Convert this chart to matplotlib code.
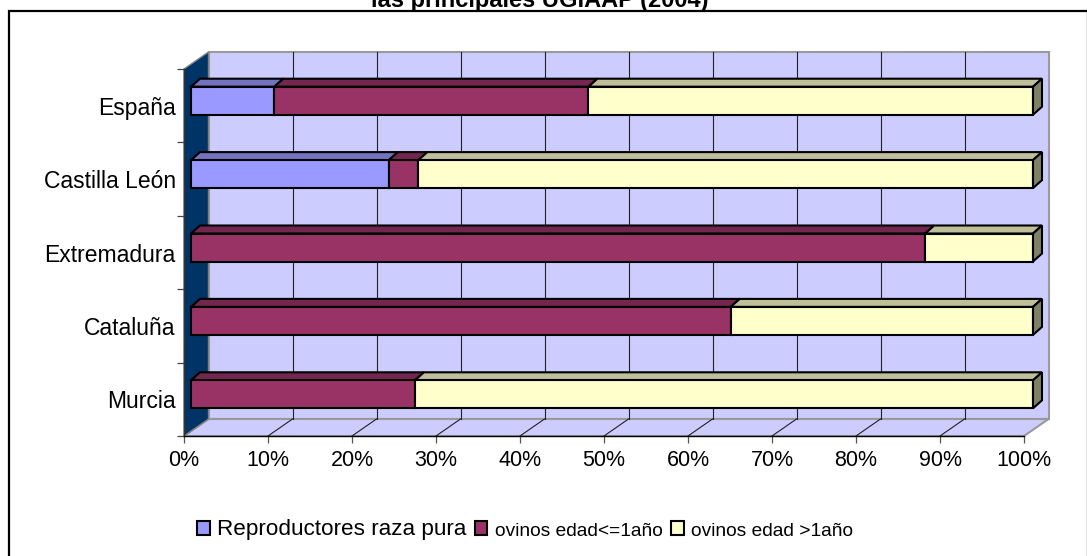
import matplotlib
matplotlib.use('Agg')
import matplotlib.pyplot as plt
from matplotlib.patches import Polygon, Rectangle

regiones = ['España', 'Castilla León', 'Extremadura', 'Cataluña', 'Murcia']
raza_pura = [9.9, 23.5, 0, 0, 0]
edad_menor = [37.3, 3.5, 87.2, 64.1, 26.6]
edad_mayor = [52.8, 73.0, 12.8, 35.9, 73.4]
series = ['Reproductores raza pura', 'ovinos edad<=1año', 'ovinos edad >1año']
ticks = list(range(0, 101, 10))
tick_labels = [str(t) + '%' for t in ticks]

W, H = 1087, 556
plt.rcParams['font.family'] = ['Liberation Sans', 'DejaVu Sans']
fig = plt.figure(figsize=(W / 100, H / 100), dpi=100)

# marco exterior
fig.add_artist(Rectangle((9 / W, -0.01), (W - 8) / W, (H - 11) / H + 0.01, transform=fig.transFigure,
                         fc='white', ec='black', lw=1.6, zorder=-1))

ax = fig.add_axes([184 / W, (H - 436) / H, 840 / W, 367 / H])
ax.set_xlim(0, 100)
ax.set_ylim(5, 0)
ax.patch.set_visible(False)

px = 100 / 840
py = 5 / 367
# profundidad del suelo y de las barras, en unidades de datos
dx, dy = 24.5 * px, -17 * py
bx, by = 7 * px, -5 * py
tx, ty = 9 * px, -8 * py
alto = 28 * py
esc = 842 / 840


def poly(pts, fc, ec='black', lw=1.5, z=3):
    ax.add_patch(Polygon(pts, closed=True, fc=fc, ec=ec, lw=lw, zorder=z, clip_on=False, joinstyle='miter'))


# pared del fondo, suelo y pared izquierda
poly([(dx, dy), (100 + dx, dy), (100 + dx, 5 + dy), (dx, 5 + dy)], '#CCCCFF', '#999999', 1.5, 1)
poly([(0, 5), (100, 5), (100 + dx, 5 + dy), (dx, 5 + dy)], '#CCCCFF', '#999999', 1.5, 1)
poly([(0, 0), (dx, dy), (dx, 5 + dy), (0, 5)], '#003366', '#808080', 1.0, 1)

for t in ticks[1:-1]:
    ax.plot([t + dx, t + dx], [dy, 5 + dy], color='#222222', lw=0.8, zorder=2, clip_on=False)
    ax.plot([t, t + dx], [5, 5 + dy], color='#222222', lw=0.8, zorder=2, clip_on=False)

colores = ['#9999FF', '#993366', '#FFFFCC']
tapas = ['#7373BF', '#732650', '#BFBF99']
lado = '#808066'

for i, r in enumerate(regiones):
    y0 = i + 0.5 + by - alto / 2
    y1 = y0 + alto
    izq = 0
    for vals, c, tapa in zip([raza_pura, edad_menor, edad_mayor], colores, tapas):
        v = vals[i]
        if v == 0:
            continue
        a, b = izq * esc + bx, (izq + v) * esc + bx
        poly([(a, y0), (a + tx, y0 + ty), (b + tx, y0 + ty), (b, y0)], tapa, z=4 + i)
        poly([(a, y0), (b, y0), (b, y1), (a, y1)], c, z=4 + i)
        izq += v
    b = izq * esc + bx
    poly([(b, y0), (b + tx, y0 + ty), (b + tx, y1 + ty), (b, y1)], lado, z=4 + i)

for s in ['top', 'right']:
    ax.spines[s].set_visible(False)
ax.spines['left'].set_linewidth(1.0)
ax.spines['bottom'].set_linewidth(1.0)
ax.spines['left'].set_color('#333333')

ax.set_xticks(ticks)
ax.set_xticklabels(tick_labels, fontsize=15.5)
ax.set_yticks(range(6))
ax.set_yticklabels([])
ax.set_yticks([i + 0.5 for i in range(5)], minor=True)
ax.set_yticklabels(regiones, minor=True, fontsize=16.5, ha='right')
ax.tick_params(axis='y', which='minor', length=0, pad=6)
ax.tick_params(axis='y', which='major', length=5, width=0.9, direction='out', color='#444444')
ax.tick_params(axis='x', length=5, width=0.9, pad=5, color='#555555')

handles = [Rectangle((0, 0), 1, 1, fc=c, ec='black', lw=1.5) for c in colores]
ley = fig.legend(handles, series, loc='center', bbox_to_anchor=(525 / W, (H - 530) / H), ncol=3, frameon=False,
                 fontsize=15, handlelength=0.62, handleheight=0.62, handletextpad=0.35, columnspacing=0.4)
# el primer texto es mas ancho que los otros dos en el original
for txt, tam in zip(ley.get_texts(), [16.2, 13.8, 13.8]):
    txt.set_fontsize(tam)

fig.text(540 / W, (H - 7) / H, 'las principales UGIAAP (2004)', ha='center', va='baseline', fontsize=17,
         fontweight='bold')

fig.savefig('out.png', dpi=100)
